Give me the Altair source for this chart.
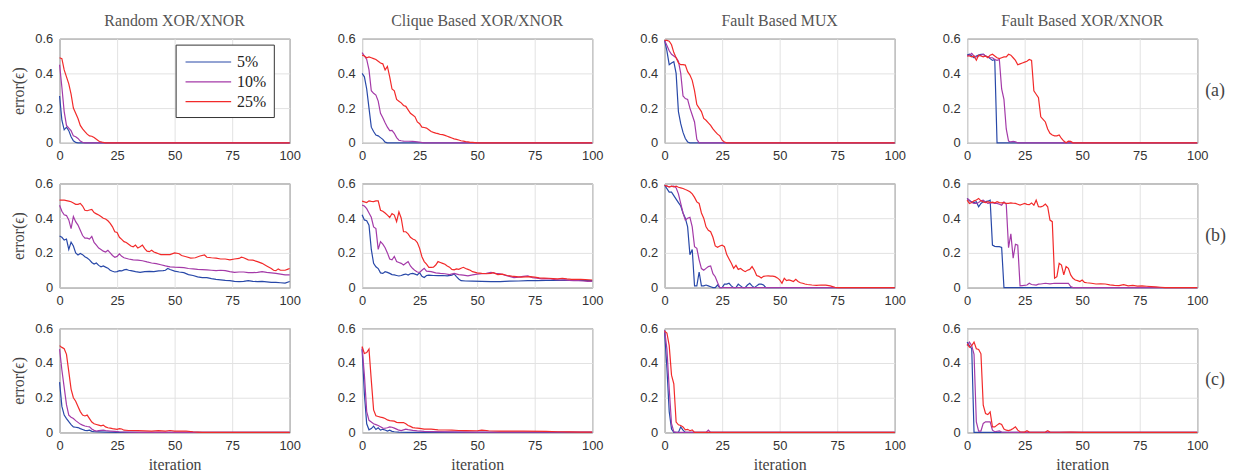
import altair as alt
import pandas as pd

# ---------------- labels / categories ----------------
SERIES = ["5%", "10%", "25%"]
COLORS = ["#2848a8", "#a43aa8", "#f22a2a"]
COLUMN_TITLES = ["Random XOR/XNOR", "Clique Based XOR/XNOR", "Fault Based MUX", "Fault Based XOR/XNOR"]
ROW_LABELS = ["(a)", "(b)", "(c)"]
ITER_TICKS = [0, 25, 50, 75, 100]
ERR_TICKS = [0, 0.2, 0.4, 0.6]

# ---------------- row (a) ----------------
a_rand_5 = [(0, .27), (1, .13), (2, .075), (3, .09), (4, .07), (5, .035), (6, .012), (7, .002), (8, 0), (100, 0)]
a_rand_10 = [(0, .45), (1, .32), (2, .18), (3, .1), (4, .085), (5, .07), (6, .04), (7, .035), (8, .025), (9, .01), (10, .003), (11, 0), (100, 0)]
a_rand_25 = [(0, .49), (1, .485), (2, .42), (3, .38), (4, .34), (5, .28), (6, .2), (7, .17), (8, .14), (9, .1), (10, .08),
             (11, .065), (12, .05), (13, .04), (14, .038), (15, .03), (16, .02), (17, .01), (18, .005), (19, .002), (20, 0), (100, 0)]

a_clq_5 = [(0, .4), (1, .38), (2, .31), (3, .2), (4, .09), (5, .065), (6, .045), (7, .04), (8, .03), (9, .02), (10, .004), (11, 0), (100, 0)]
a_clq_10 = [(0, .52), (1, .5), (2, .48), (3, .42), (4, .3), (5, .285), (6, .275), (7, .24), (8, .17), (9, .145), (10, .115),
            (11, .09), (12, .07), (13, .072), (14, .055), (15, .03), (16, .015), (17, .012), (18, .01), (20, .009), (22, .008),
            (24, .005), (27, 0), (100, 0)]
a_clq_25 = [(0, .505), (1, .5), (2, .49), (3, .495), (4, .49), (5, .485), (6, .48), (7, .47), (8, .46), (9, .455), (10, .42),
            (11, .44), (12, .38), (13, .31), (14, .3), (15, .25), (16, .24), (17, .23), (18, .215), (19, .21), (20, .19),
            (21, .17), (22, .16), (23, .15), (24, .12), (25, .11), (26, .09), (27, .088), (28, .085), (29, .075), (30, .065),
            (31, .06), (32, .056), (33, .053), (34, .048), (35, .047), (36, .043), (37, .038), (38, .033), (39, .028),
            (40, .023), (41, .02), (42, .016), (43, .012), (44, .01), (45, .007), (46, .005), (47, .003), (48, .002),
            (49, .001), (50, 0), (100, 0)]

a_mux_5 = [(0, .59), (1, .53), (2, .45), (3, .46), (4, .467), (5, .4), (6, .18), (7, .11), (8, .06), (9, .025), (10, .005), (11, 0), (100, 0)]
a_mux_10 = [(0, .59), (1, .56), (2, .53), (3, .51), (4, .5), (5, .49), (6, .47), (7, .4), (8, .27), (9, .255), (10, .25),
            (11, .2), (12, .16), (13, .12), (14, .02), (15, 0), (100, 0)]
a_mux_25 = [(0, .59), (1, .59), (2, .585), (3, .565), (4, .52), (5, .49), (6, .46), (7, .45), (8, .45), (9, .448), (10, .41),
            (11, .39), (12, .36), (13, .3), (14, .22), (15, .2), (16, .18), (17, .14), (18, .13), (19, .115), (20, .1),
            (21, .08), (22, .065), (23, .05), (24, .04), (25, .015), (26, .005), (27, 0), (100, 0)]

a_fx_5 = [(0, .505), (1, .51), (2, .5), (3, .49), (4, .5), (5, .505), (6, .51), (7, .51), (8, .5), (9, .495), (10, .485),
          (11, .475), (12, .48), (13, 0), (100, 0)]
a_fx_10 = [(0, .5), (1, .505), (2, .515), (3, .5), (4, .495), (5, .5), (6, .505), (7, .51), (8, .5), (9, .495), (10, .49),
           (11, .49), (12, .48), (13, .475), (14, .48), (15, .31), (16, .25), (17, .08), (18, .01), (19, .005), (20, .008),
           (21, .005), (22, 0), (100, 0)]
a_fx_25 = [(0, .5), (1, .5), (2, .495), (3, .5), (4, .476), (5, .505), (6, .5), (7, .495), (8, .5), (9, .49), (10, .505),
           (11, .51), (12, .5), (13, .49), (14, .485), (15, .49), (16, .495), (17, .495), (18, .51), (19, .505), (20, .49),
           (21, .475), (22, .45), (23, .455), (24, .46), (25, .465), (26, .47), (27, .48), (28, .475), (29, .3), (30, .28),
           (31, .26), (32, .15), (33, .135), (34, .12), (35, .08), (36, .055), (37, .045), (38, .04), (39, .04), (40, .045),
           (41, .025), (42, .01), (43, 0), (44, .01), (45, .008), (46, 0), (100, 0)]

# ---------------- row (b) ----------------
b_rand_5 = [(0, .297), (1, .29), (2, .274), (3, .28), (4, .22), (5, .262), (6, .24), (7, .2), (8, .188), (9, .197), (10, .19),
            (11, .178), (12, .17), (13, .16), (14, .145), (15, .136), (16, .142), (17, .128), (18, .12), (19, .125), (20, .118),
            (21, .112), (22, .1), (23, .094), (24, .09), (25, .092), (26, .098), (27, .096), (28, .102), (29, .105), (30, .1),
            (31, .098), (33, .092), (35, .088), (37, .092), (39, .094), (41, .092), (43, .096), (45, .098), (46, .1), (47, .11),
            (48, .104), (50, .095), (52, .09), (54, .086), (56, .075), (58, .07), (60, .062), (62, .058), (64, .058), (66, .052),
            (68, .048), (70, .045), (72, .042), (74, .04), (76, .036), (78, .035), (80, .036), (82, .04), (84, .036), (86, .035),
            (88, .036), (90, .033), (92, .03), (94, .03), (96, .028), (98, .026), (100, .035)]
b_rand_10 = [(0, .475), (1, .44), (2, .42), (3, .415), (4, .39), (5, .34), (6, .41), (7, .38), (8, .36), (9, .33), (10, .3),
             (11, .285), (12, .285), (13, .28), (14, .295), (15, .26), (16, .245), (17, .228), (18, .22), (19, .21), (20, .205),
             (21, .215), (22, .2), (23, .185), (24, .175), (25, .18), (26, .195), (27, .18), (28, .172), (30, .165), (32, .16),
             (34, .158), (36, .155), (38, .148), (40, .142), (42, .138), (44, .132), (46, .125), (48, .12), (50, .118),
             (52, .117), (54, .115), (56, .11), (58, .108), (60, .105), (62, .104), (64, .102), (66, .1), (68, .098), (70, .1),
             (72, .098), (74, .092), (76, .088), (78, .09), (80, .09), (82, .086), (84, .086), (86, .088), (88, .092),
             (90, .088), (92, .085), (94, .082), (96, .078), (98, .073), (100, .073)]
b_rand_25 = [(0, .504), (2, .504), (4, .498), (5, .495), (6, .488), (7, .48), (8, .48), (9, .485), (10, .47), (11, .446),
             (12, .443), (13, .447), (14, .45), (15, .432), (16, .425), (17, .418), (18, .41), (19, .4), (20, .395), (21, .385),
             (22, .37), (23, .35), (24, .322), (25, .318), (26, .29), (27, .278), (28, .265), (29, .26), (30, .25), (31, .24),
             (32, .235), (33, .245), (34, .228), (35, .235), (36, .245), (37, .225), (38, .21), (39, .207), (40, .215),
             (41, .205), (42, .2), (43, .195), (44, .19), (46, .19), (48, .19), (50, .2), (51, .198), (52, .195), (53, .185),
             (55, .178), (57, .17), (59, .172), (61, .182), (63, .188), (64, .175), (66, .172), (68, .17), (70, .165),
             (72, .165), (74, .16), (76, .165), (78, .168), (79, .175), (80, .172), (82, .16), (84, .158), (86, .15),
             (88, .14), (90, .125), (92, .11), (93, .1), (94, .098), (95, .108), (96, .1), (98, .1), (99, .105), (100, .11)]

b_clq_5 = [(0, .42), (1, .39), (2, .385), (3, .36), (4, .22), (5, .14), (6, .12), (7, .11), (8, .085), (9, .082), (10, .092),
           (11, .088), (12, .082), (13, .075), (14, .073), (15, .07), (16, .067), (17, .07), (18, .075), (19, .078), (20, .072),
           (21, .08), (22, .082), (23, .078), (24, .073), (25, .086), (26, .065), (27, .058), (28, .07), (29, .072), (31, .07),
           (33, .069), (35, .07), (37, .068), (39, .072), (40, .079), (41, .063), (42, .05), (43, .04), (45, .038), (48, .037),
           (52, .036), (56, .035), (60, .035), (64, .037), (68, .038), (72, .04), (76, .04), (80, .041), (84, .042),
           (88, .043), (92, .042), (96, .041), (100, .04)]
b_clq_10 = [(0, .475), (1, .47), (2, .455), (3, .43), (4, .405), (5, .35), (6, .34), (7, .22), (8, .265), (9, .25), (10, .23),
            (11, .2), (12, .165), (13, .16), (14, .18), (15, .15), (16, .145), (17, .14), (18, .13), (19, .14), (20, .15),
            (21, .125), (22, .11), (23, .098), (24, .09), (25, .088), (26, .1), (27, .111), (28, .095), (30, .092), (32, .085),
            (34, .082), (36, .08), (38, .075), (40, .082), (42, .075), (44, .072), (46, .068), (48, .073), (50, .078),
            (52, .08), (54, .082), (56, .088), (58, .082), (60, .08), (62, .072), (64, .065), (66, .058), (68, .06),
            (70, .065), (72, .068), (74, .058), (76, .055), (78, .05), (80, .052), (82, .05), (84, .046), (86, .044),
            (88, .045), (90, .042), (92, .04), (94, .04), (96, .038), (98, .036), (100, .036)]
b_clq_25 = [(0, .498), (1, .494), (2, .49), (3, .5), (4, .497), (5, .496), (6, .5), (7, .5), (8, .446), (9, .44), (10, .43),
            (11, .418), (12, .404), (13, .427), (14, .418), (15, .38), (16, .437), (17, .4), (18, .322), (19, .322), (20, .31),
            (21, .29), (22, .28), (23, .275), (24, .26), (25, .226), (26, .178), (27, .15), (28, .135), (29, .117), (30, .117),
            (31, .118), (32, .13), (33, .15), (34, .145), (35, .14), (36, .135), (37, .125), (38, .118), (39, .105), (40, .102),
            (41, .108), (42, .105), (43, .112), (44, .117), (45, .11), (46, .105), (47, .1), (48, .092), (50, .085),
            (52, .082), (54, .08), (56, .082), (57, .086), (59, .075), (61, .078), (63, .07), (65, .066), (67, .063),
            (69, .06), (71, .062), (73, .063), (75, .06), (77, .056), (79, .055), (81, .054), (83, .052), (85, .05),
            (87, .054), (89, .05), (91, .048), (93, .048), (95, .047), (97, .046), (100, .044)]

b_mux_5 = [(0, .59), (1, .57), (2, .55), (3, .55), (4, .53), (5, .51), (6, .49), (7, .47), (8, .43), (9, .4), (10, .35),
           (11, .19), (12, .22), (13, .01), (14, .01), (15, .09), (16, .01), (17, .01), (18, .015), (19, .01), (20, .005),
           (21, 0), (22, 0), (23, .015), (24, 0), (25, 0), (26, .02), (27, .02), (28, .025), (29, .01), (30, 0), (31, 0),
           (32, .02), (33, .01), (34, 0), (35, 0), (36, .015), (37, .025), (38, .01), (39, 0), (40, .01), (41, .02),
           (42, .02), (43, .015), (44, 0), (100, 0)]
b_mux_10 = [(0, .59), (1, .585), (2, .58), (3, .583), (4, .585), (5, .575), (6, .54), (7, .485), (8, .43), (9, .39), (10, .4),
            (11, .405), (12, .35), (13, .236), (14, .226), (15, .16), (16, .11), (17, .1), (18, .111), (19, .121), (20, .125),
            (21, .08), (22, .063), (23, .03), (24, 0), (100, 0)]
b_mux_25 = [(0, .59), (1, .585), (2, .58), (3, .585), (4, .58), (5, .585), (6, .578), (7, .575), (8, .571), (9, .565),
            (10, .56), (11, .552), (12, .54), (13, .52), (14, .494), (15, .485), (16, .43), (17, .4), (18, .35), (19, .33),
            (20, .322), (21, .29), (22, .24), (23, .232), (24, .24), (25, .245), (26, .236), (27, .19), (28, .165), (29, .14),
            (30, .111), (31, .128), (32, .105), (33, .11), (34, .1), (35, .092), (36, .1), (37, .105), (38, .121), (39, .1),
            (40, .07), (41, .065), (42, .055), (43, .065), (44, .067), (45, .068), (46, .066), (47, .066), (48, .063),
            (49, .056), (50, .045), (51, .025), (52, .054), (53, .04), (54, .044), (55, .04), (56, .035), (57, .048),
            (58, .035), (59, .028), (60, .025), (61, .021), (62, .018), (64, .015), (66, .013), (68, .015), (70, .014),
            (72, .01), (73, .006), (74, .002), (75, 0), (100, 0)]

b_fx_5 = [(0, .514), (1, .5), (2, .494), (3, .49), (4, .495), (5, .466), (6, .485), (7, .494), (8, .495), (9, .498), (10, .504),
          (11, .245), (12, .238), (13, .236), (14, .236), (15, .232), (16, 0), (100, 0)]
b_fx_10 = [(0, .514), (1, .504), (2, .49), (3, .485), (4, .485), (5, .49), (6, .5), (7, .504), (8, .494), (9, .485), (10, .488),
           (11, .49), (12, .485), (13, .485), (14, .48), (15, .475), (16, .494), (17, .48), (18, .23), (19, .31), (20, .17),
           (21, .25), (22, .245), (23, .01), (24, .012), (26, .015), (27, .025), (28, .018), (30, .015), (31, .02), (32, .021),
           (34, .025), (36, .022), (38, .025), (40, .024), (42, .025), (44, .025), (45, .006), (46, 0), (100, 0)]
b_fx_25 = [(0, .504), (1, .485), (2, .49), (3, .5), (4, .505), (5, .514), (6, .5), (7, .494), (8, .49), (9, .495), (10, .49),
           (11, .492), (12, .488), (13, .495), (14, .49), (15, .488), (16, .49), (17, .485), (18, .485), (19, .488), (20, .486),
           (21, .485), (22, .48), (23, .475), (24, .48), (25, .485), (26, .48), (27, .478), (28, .488), (29, .475), (30, .504),
           (31, .466), (32, .465), (33, .47), (34, .481), (35, .466), (36, .389), (37, .38), (38, .054), (39, .063), (40, .14),
           (41, .13), (42, .073), (43, .121), (44, .111), (45, .073), (46, .054), (47, .044), (48, .04), (49, .035), (50, .044),
           (51, .03), (52, .028), (54, .025), (56, .021), (58, .022), (60, .021), (62, .016), (64, .013), (66, .012),
           (68, .017), (70, .01), (72, .013), (74, .009), (76, .01), (78, .008), (80, .006), (82, .004), (84, .002), (86, 0),
           (100, 0)]

# ---------------- row (c) ----------------
c_rand_5 = [(0, .29), (1, .15), (2, .1), (3, .08), (4, .062), (5, .045), (6, .032), (7, .03), (8, .028), (9, .022), (10, .017),
            (11, .012), (12, .01), (13, .013), (14, .006), (15, .004), (17, .003), (20, .002), (25, 0), (100, 0)]
c_rand_10 = [(0, .48), (1, .36), (2, .26), (3, .16), (4, .1), (5, .088), (6, .08), (7, .068), (8, .058), (9, .048), (10, .042),
             (11, .037), (12, .034), (13, .032), (14, .02), (15, .012), (16, .008), (17, .01), (18, .012), (19, .013), (20, .01),
             (22, .008), (24, .006), (26, .004), (30, .002), (35, 0), (100, 0)]
c_rand_25 = [(0, .5), (1, .49), (2, .482), (3, .45), (4, .35), (5, .25), (6, .2), (7, .18), (8, .15), (9, .12), (10, .1),
             (11, .095), (12, .1), (13, .08), (14, .06), (15, .05), (16, .046), (17, .042), (18, .038), (19, .042), (20, .032),
             (21, .027), (22, .025), (23, .022), (25, .018), (26, .022), (27, .02), (28, .013), (30, .011), (34, .01),
             (40, .008), (43, .01), (46, .008), (48, .011), (50, .008), (55, .008), (58, .004), (60, .002), (62, 0), (100, 0)]

c_clq_5 = [(0, .48), (1, .22), (2, .05), (3, .015), (4, .022), (5, .036), (6, .017), (7, .027), (8, .013), (9, .018), (10, .014),
           (11, .008), (12, .013), (13, .006), (14, .004), (16, .002), (20, 0), (100, 0)]
c_clq_10 = [(0, .49), (1, .33), (2, .12), (3, .07), (4, .06), (5, .05), (6, .045), (7, .04), (8, .033), (9, .025), (10, .024),
            (11, .027), (12, .032), (13, .03), (14, .025), (15, .019), (16, .013), (17, .011), (18, .015), (19, .019),
            (20, .016), (22, .012), (24, .009), (27, .006), (30, .005), (40, .003), (50, .002), (100, .002)]
c_clq_25 = [(0, .495), (1, .455), (2, .46), (3, .48), (4, .3), (5, .13), (6, .096), (7, .092), (8, .088), (9, .085), (10, .08),
            (11, .072), (12, .068), (13, .067), (14, .065), (15, .058), (16, .057), (17, .056), (18, .057), (19, .05),
            (20, .04), (21, .035), (22, .028), (23, .026), (25, .023), (27, .019), (30, .019), (33, .015), (36, .014),
            (39, .013), (42, .011), (45, .01), (50, .0096), (52, .013), (55, .0096), (60, .008), (70, .008), (80, .006),
            (85, .004), (90, .003), (95, .002), (100, .002)]

c_mux_5 = [(0, .577), (1, .37), (2, .12), (3, .02), (4, 0), (6, 0), (7, .032), (8, .013), (9, 0), (100, 0)]
c_mux_10 = [(0, .59), (1, .48), (2, .252), (3, .05), (4, .004), (5, 0), (18, 0), (19, .013), (20, 0), (100, 0)]
c_mux_25 = [(0, .583), (1, .573), (2, .5), (3, .33), (4, .28), (5, .06), (6, .044), (7, .04), (8, .032), (9, .015), (10, .018),
            (11, .01), (12, .015), (13, 0), (100, 0)]

c_fx_5 = [(0, .52), (1, .5), (2, .482), (3, 0), (100, 0)]
c_fx_10 = [(0, .5), (1, .52), (2, .5), (3, .45), (4, .06), (5, .008), (6, .008), (7, .052), (8, .061), (9, .061), (10, .061),
           (11, .013), (12, .004), (14, .009), (15, .002), (20, 0), (100, 0)]
c_fx_25 = [(0, .51), (1, .491), (2, .5), (3, .52), (4, .482), (5, .478), (6, .453), (7, .157), (8, .109), (9, .103), (10, .118),
           (11, .032), (12, .032), (13, .042), (14, .052), (15, .046), (16, .019), (17, .013), (18, .011), (19, .015),
           (20, .023), (21, .032), (22, .013), (23, .004), (25, .002), (26, .0096), (27, .002), (30, .001), (34, .002),
           (35, .0096), (36, .002), (40, .001), (45, .002), (50, 0), (100, 0)]

GRID = [
    [(a_rand_5, a_rand_10, a_rand_25), (a_clq_5, a_clq_10, a_clq_25), (a_mux_5, a_mux_10, a_mux_25), (a_fx_5, a_fx_10, a_fx_25)],
    [(b_rand_5, b_rand_10, b_rand_25), (b_clq_5, b_clq_10, b_clq_25), (b_mux_5, b_mux_10, b_mux_25), (b_fx_5, b_fx_10, b_fx_25)],
    [(c_rand_5, c_rand_10, c_rand_25), (c_clq_5, c_clq_10, c_clq_25), (c_mux_5, c_mux_10, c_mux_25), (c_fx_5, c_fx_10, c_fx_25)],
]

SERIF = "Liberation Serif"
SANS = "Liberation Sans"

legend = alt.Legend(
    orient="none", legendX=117, legendY=6, title=None,
    symbolType="M-0.79,0H4.05", symbolSize=361, symbolStrokeWidth=1.2,
    symbolOffset=0, labelOffset=34, rowPadding=1, padding=7,
    labelFont=SERIF, labelFontSize=16, labelColor="#222",
    strokeColor="#333", fillColor="white", cornerRadius=0,
)

X_SCALE = alt.Scale(domain=[0, 100], nice=False)
Y_SCALE = alt.Scale(domain=[0, 0.6], nice=False)


def panel(r, c):
    x_axis = alt.Axis(values=ITER_TICKS, labelFlush=False, title="iteration" if r == 2 else None)
    y_axis = alt.Axis(values=ERR_TICKS, labelFlush=False, format="~g", title="error(ϵ)" if c == 0 else None)
    x = alt.X("iteration:Q", scale=X_SCALE, axis=x_axis)
    y = alt.Y("error:Q", scale=Y_SCALE, axis=y_axis)
    color = alt.Color("pct:N", scale=alt.Scale(domain=SERIES, range=COLORS), legend=legend)
    layers = []
    for name, pts in zip(SERIES, GRID[r][c]):
        df = pd.DataFrame(pts, columns=["iteration", "error"])
        df["pct"] = name
        layers.append(alt.Chart(df).mark_line(strokeWidth=1.2).encode(x=x, y=y, color=color))
    if c == 3:
        lab = pd.DataFrame({"lab": [ROW_LABELS[r]]})
        layers.append(
            alt.Chart(lab).mark_text(align="left", baseline="middle", dx=8, font=SERIF, fontSize=18, color="#444")
            .encode(x=alt.XDatum(100, type="quantitative", scale=X_SCALE, axis=x_axis),
                    y=alt.YDatum(0.3, type="quantitative", scale=Y_SCALE, axis=y_axis),
                    text="lab:N")
        )
    ch = alt.layer(*layers).properties(width=232, height=105)
    if r == 0:
        ch = ch.properties(title=alt.TitleParams(COLUMN_TITLES[c]))
    return ch


panels = [panel(r, c) for r in range(3) for c in range(4)]

chart = alt.concat(*panels, columns=4, spacing={"row": 41, "column": 73}, bounds="flush").properties(
    padding={"left": 2, "right": 0, "top": 2, "bottom": 0}
).configure_view(
    stroke="#444", strokeWidth=1
).configure_axis(
    grid=True, gridColor="#e2e2e2", gridWidth=1, domain=False, ticks=False,
    labelFont=SANS, labelFontSize=13, labelColor="#333",
    titleFont=SERIF, titleFontSize=16, titleColor="#444", titleFontWeight="normal",
).configure_axisX(
    labelPadding=7, titlePadding=4,
).configure_axisY(
    labelPadding=7, titlePadding=8,
).configure_title(
    font=SERIF, fontSize=16, color="#555", fontWeight="normal", offset=4,
)

chart.save("out.html", embed_options={"renderer": "svg", "actions": False})
